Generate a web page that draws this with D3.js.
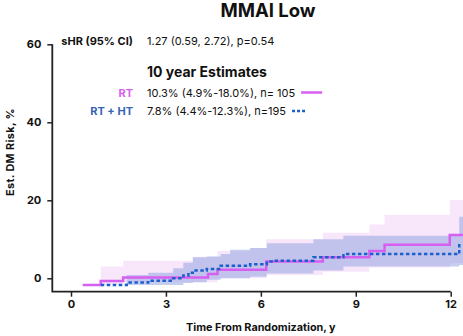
<!DOCTYPE html>
<html>
<head>
<meta charset="utf-8">
<script src="https://cdn.jsdelivr.net/npm/d3@7"></script>
<style>
  body { margin: 0; background: #fff; }
  svg { display: block; font-family: Inter, "Noto Sans", sans-serif; }
</style>
</head>
<body>
<svg id="chart" width="463" height="336"></svg>
<script>
// RT arm: cumulative incidence steps (years, %)
const rtTime = [0.37, 0.94, 1.65, 4.33, 4.63, 6.17, 7.96, 9.43, 9.91, 11.97, 12.4];
const rtRisk = [-1.7, -0.7, 0.2, 1.1, 2.2, 4.3, 5.4, 7.0, 8.6, 11.1, 11.1];

// RT + HT arm
const htTime = [0.94, 1.76, 2.44, 3.23, 3.55, 3.71, 3.85, 4.29, 4.73, 5.66, 6.19, 6.42, 7.66, 8.61, 12.27, 12.4];
const htRisk = [-1.7, -1.1, -0.6, 0.0, 0.7, 1.4, 2.0, 2.4, 3.2, 3.6, 4.3, 4.5, 5.4, 6.2, 8.5, 8.5];

// confidence bands
const rtBandTime = [0.94, 1.65, 3.85, 4.63, 5.66, 6.17, 7.96, 9.43, 9.91, 11.97, 12.4];
const rtBandLow = [-1.7, -1.0, -1.0, 0.0, 0.0, 0.85, 1.7, 2.8, 2.8, 3.9, 3.9];
const rtBandHigh = [3.0, 4.5, 5.5, 7.0, 7.7, 10.0, 11.7, 13.8, 16.3, 20.1, 20.1];

const htBandTime = [1.76, 2.44, 3.23, 3.55, 3.85, 4.29, 4.73, 5.03, 5.66, 6.19, 7.66, 8.61, 12.27, 12.4];
const htBandLow = [-1.7, -1.7, -1.7, -1.2, -1.0, -0.4, 0.0, 0.0, 0.4, 1.2, 2.0, 3.0, 3.4, 3.4];
const htBandHigh = [0.85, 1.4, 2.6, 4.0, 5.4, 5.6, 6.2, 7.3, 7.8, 9.0, 10.0, 10.9, 15.8, 15.8];

const xTicks = [0, 3, 6, 9, 12];
const yTicks = [0, 20, 40, 60];

const title = "MMAI Low";
const hrLabel = "sHR (95% CI)";
const hrText = "1.27 (0.59, 2.72), p=0.54";
const estTitle = "10 year Estimates";
const legendNames = ["RT", "RT + HT"];
const legendText = ["10.3% (4.9%-18.0%), n= 105", "7.8% (4.4%-12.3%), n=195"];

const colRT = "#d75ff0";
const colHT = "#1e5fcc";
const colHTText = "#3563b4";

const svg = d3.select("#chart");

const x = d3.scaleLinear().domain([0, 12]).range([71, 450.7]);
const y = d3.scaleLinear().domain([0, 60]).range([278.3, 44.3]);
const axisBottomY = 291.7;
const axisLeftX = 52.3;

// bands
const band = (times, lo, hi) => times.map((t, i) => ({ t, lo: lo[i], hi: hi[i] }));
const area = d3.area()
  .curve(d3.curveStepAfter)
  .x((d) => x(d.t))
  .y0((d) => y(d.lo))
  .y1((d) => y(d.hi));

svg.append("path")
  .attr("d", area(band(rtBandTime, rtBandLow, rtBandHigh)))
  .attr("fill", "#f8e6fb");

svg.append("path")
  .attr("d", area(band(htBandTime, htBandLow, htBandHigh)))
  .attr("fill", "rgb(150,165,225)")
  .attr("fill-opacity", 0.55);

// step lines
const line = d3.line()
  .curve(d3.curveStepAfter)
  .x((d) => x(d.t))
  .y((d) => y(d.v));

svg.append("path")
  .attr("d", line(rtTime.map((t, i) => ({ t, v: rtRisk[i] }))))
  .attr("fill", "none")
  .attr("stroke", colRT)
  .attr("stroke-width", 2.5);

svg.append("path")
  .attr("d", line(htTime.map((t, i) => ({ t, v: htRisk[i] }))))
  .attr("fill", "none")
  .attr("stroke", colHT)
  .attr("stroke-width", 2.5)
  .attr("stroke-dasharray", "3.5,2.5");

// axes
const xAxis = svg.append("g")
  .attr("transform", `translate(0,${axisBottomY})`)
  .call(d3.axisBottom(x).tickValues(xTicks).tickSize(5).tickPadding(4));
xAxis.select(".domain").remove();

const yAxis = svg.append("g")
  .attr("transform", `translate(${axisLeftX},0)`)
  .call(d3.axisLeft(y).tickValues(yTicks).tickSize(5).tickPadding(6));
yAxis.select(".domain").remove();

[xAxis, yAxis].forEach((g) => {
  g.selectAll("line").attr("stroke", "#222").attr("stroke-width", 1.5);
  g.selectAll("text")
    .attr("fill", "#111")
    .attr("font-size", "11px")
    .attr("font-weight", "bold")
    .attr("font-family", "Inter, sans-serif");
});

svg.append("path")
  .attr("d", `M${axisLeftX},${y(60)}V${axisBottomY}H${x(12)}`)
  .attr("fill", "none")
  .attr("stroke", "#222")
  .attr("stroke-width", 1.8);

// axis titles
svg.append("text")
  .attr("x", (x(0) + x(12)) / 2)
  .attr("y", 331)
  .attr("text-anchor", "middle")
  .attr("font-size", "10.8px")
  .attr("font-weight", "bold")
  .attr("fill", "#111")
  .text("Time From Randomization, y");

svg.append("text")
  .attr("transform", "translate(14,152) rotate(-90)")
  .attr("text-anchor", "middle")
  .attr("font-size", "10.8px")
  .attr("font-weight", "bold")
  .attr("letter-spacing", "0.4px")
  .attr("fill", "#111")
  .text("Est. DM Risk, %");

// title
svg.append("text")
  .attr("x", 268)
  .attr("y", 17)
  .attr("text-anchor", "middle")
  .attr("font-size", "18.5px")
  .attr("font-weight", "bold")
  .attr("fill", "#111")
  .text(title);

// annotation block
const labelX = 133;
const valueX = 147;

svg.append("text")
  .attr("x", labelX).attr("y", 44.5)
  .attr("text-anchor", "end")
  .attr("font-size", "11px").attr("font-weight", "bold").attr("fill", "#111")
  .text(hrLabel);

svg.append("text")
  .attr("x", valueX).attr("y", 44.5)
  .attr("font-size", "11px").attr("fill", "#111")
  .text(hrText);

svg.append("text")
  .attr("x", valueX).attr("y", 77)
  .attr("font-size", "14px").attr("font-weight", "bold").attr("fill", "#111")
  .text(estTitle);

const legendY = [96.5, 115];
const legendCol = [colRT, colHTText];

legendNames.forEach((name, i) => {
  svg.append("text")
    .attr("x", labelX).attr("y", legendY[i])
    .attr("text-anchor", "end")
    .attr("font-size", "11px").attr("font-weight", "bold").attr("fill", legendCol[i])
    .text(name);
  const t = svg.append("text")
    .attr("x", valueX).attr("y", legendY[i])
    .attr("font-size", "11px").attr("fill", "#111")
    .text(legendText[i]);
  const end = valueX + t.node().getComputedTextLength() + 6;
  svg.append("line")
    .attr("x1", end).attr("x2", end + (i === 0 ? 21 : 13))
    .attr("y1", legendY[i] - 4).attr("y2", legendY[i] - 4)
    .attr("stroke", i === 0 ? colRT : colHT)
    .attr("stroke-width", 2.5)
    .attr("stroke-dasharray", i === 0 ? null : "3,2");
});
</script>
</body>
</html>
